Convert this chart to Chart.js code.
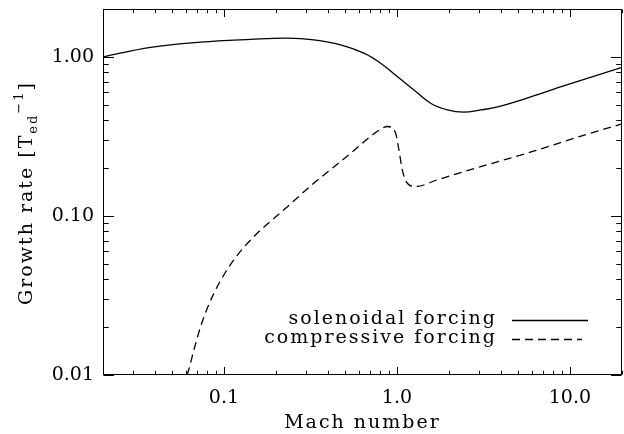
<!DOCTYPE html>
<html>
<head>
<meta charset="utf-8">
<script src="https://cdn.jsdelivr.net/npm/chart.js@4.4.0/dist/chart.umd.min.js"></script>
<style>
html, body { margin: 0; padding: 0; background: #fff; }
#wrap { width: 624px; height: 434px; }
</style>
</head>
<body>
<div id="wrap"><canvas id="growthChart" width="624" height="434"></canvas></div>
<script>
// values (log-log)
const machSol = [0.02, 0.0377, 0.0733, 0.143, 0.233, 0.331, 0.473, 0.644, 0.805, 1.005, 1.254, 1.566, 1.956, 2.44, 3.05, 3.82, 5.93, 9.19, 20];
const rateSol = [1.00, 1.147, 1.237, 1.288, 1.311, 1.279, 1.190, 1.055, 0.913, 0.752, 0.620, 0.511, 0.464, 0.449, 0.464, 0.485, 0.560, 0.657, 0.859];

const machComp = [0.0614, 0.0733, 0.0876, 0.114, 0.149, 0.233, 0.323, 0.517, 0.805, 0.880, 0.983, 1.027, 1.074, 1.148, 1.282, 1.72, 3.05, 6.30, 11.2, 20];
const rateComp = [0.010, 0.0201, 0.0327, 0.0529, 0.0741, 0.1144, 0.157, 0.238, 0.351, 0.365, 0.331, 0.260, 0.195, 0.1606, 0.153, 0.169, 0.204, 0.257, 0.314, 0.379];

const seriesNames = ['solenoidal forcing', 'compressive forcing'];
const xTicks = [0.1, 1, 10];
const yTicks = [0.01, 0.1, 1];
const xMin = 0.02, xMax = 20, yMin = 0.01, yMax = 2;

const FONT = 'DejaVu Serif';

function pts(xs, ys) {
    return xs.map((m, i) => ({x: m, y: ys[i]}));
}

function decadeValues(lo, hi) {
    let out = [];
    for (let e = Math.floor(Math.log10(lo)); e <= Math.ceil(Math.log10(hi)); e++) {
        for (let k = 1; k <= 9; k++) {
            let v = k * Math.pow(10, e);
            if (v >= lo * 0.999 && v <= hi * 1.001) out.push({v: v, major: k === 1});
        }
    }
    return out;
}

// box, inward ticks on all four sides, titles and legend
const idlFrame = {
    id: 'idlFrame',
    afterDraw(chart) {
        const ctx = chart.ctx;
        const a = chart.chartArea;
        const xs = chart.scales.x, ys = chart.scales.y;
        const L = Math.round(a.left) + 0.5, R = Math.round(a.right) - 0.5;
        const T = Math.round(a.top) + 0.5, B = Math.round(a.bottom) - 0.5;
        ctx.save();
        ctx.strokeStyle = '#000';
        ctx.lineWidth = 1;
        ctx.setLineDash([]);
        ctx.strokeRect(L, T, R - L, B - T);

        ctx.beginPath();
        for (let t of decadeValues(xMin, xMax)) {
            let px = Math.round(xs.getPixelForValue(t.v)) + 0.5;
            let len = t.major ? 7.5 : 3.7;
            ctx.moveTo(px, B); ctx.lineTo(px, B - len);
            ctx.moveTo(px, T); ctx.lineTo(px, T + len);
        }
        for (let t of decadeValues(yMin, yMax)) {
            let py = Math.round(ys.getPixelForValue(t.v)) + 0.5;
            let len = t.major ? 10.5 : 5.2;
            ctx.moveTo(L, py); ctx.lineTo(L + len, py);
            ctx.moveTo(R, py); ctx.lineTo(R - len, py);
        }
        ctx.stroke();

        ctx.fillStyle = '#000';
        ctx.letterSpacing = '2px';

        // x title
        ctx.font = '19px "' + FONT + '"';
        ctx.textAlign = 'center';
        ctx.textBaseline = 'alphabetic';
        ctx.fillText('Mach number', (a.left + a.right) / 2, 428);

        // y title with sub/superscript
        const parts = [
            {t: 'Growth rate [T', size: 19, dy: 0},
            {t: 'ed', size: 13, dy: 5},
            {t: '\u22121', size: 13, dy: -9},
            {t: ']', size: 19, dy: 0}
        ];
        let total = 0;
        for (let p of parts) {
            ctx.font = p.size + 'px "' + FONT + '"';
            p.w = ctx.measureText(p.t).width;
            total += p.w;
        }
        ctx.save();
        ctx.translate(32, 193);
        ctx.rotate(-Math.PI / 2);
        ctx.textAlign = 'left';
        let cx = -total / 2;
        for (let p of parts) {
            ctx.font = p.size + 'px "' + FONT + '"';
            ctx.fillText(p.t, cx, p.dy);
            cx += p.w;
        }
        ctx.restore();

        // legend, text left of samples
        ctx.font = '19px "' + FONT + '"';
        ctx.textAlign = 'right';
        const legY = [324, 343];
        const lineY = [320, 339];
        chart.data.datasets.forEach((ds, i) => {
            ctx.fillText(seriesNames[i], 497, legY[i]);
            ctx.beginPath();
            ctx.lineWidth = ds.borderWidth;
            ctx.setLineDash(ds.borderDash || []);
            ctx.moveTo(512, lineY[i] + 0.5);
            ctx.lineTo(i === 0 ? 588 : 582, lineY[i] + 0.5);
            ctx.stroke();
        });
        ctx.restore();
    }
};

new Chart(document.getElementById('growthChart').getContext('2d'), {
    type: 'line',
    data: {
        datasets: [{
            label: seriesNames[0],
            data: pts(machSol, rateSol),
            borderColor: '#000',
            borderWidth: 1.3,
            pointRadius: 0,
            tension: 0.4
        }, {
            label: seriesNames[1],
            data: pts(machComp, rateComp),
            borderColor: '#000',
            borderWidth: 1.3,
            borderDash: [8, 5],
            pointRadius: 0,
            cubicInterpolationMode: 'monotone'
        }]
    },
    options: {
        responsive: false,
        animation: false,
        devicePixelRatio: 1,
        layout: {padding: {top: 9, right: 2, left: 0, bottom: 0}},
        plugins: {legend: {display: false}, tooltip: {enabled: false}},
        scales: {
            x: {
                type: 'logarithmic',
                min: xMin,
                max: xMax,
                grid: {display: false, drawTicks: false},
                border: {display: false},
                afterBuildTicks: (s) => { s.ticks = xTicks.map(v => ({value: v})); },
                afterFit: (s) => { s.height = 59; s.paddingLeft = 0; s.paddingRight = 0; },
                ticks: {
                    color: '#000',
                    font: {family: FONT, size: 19},
                    padding: 12,
                    maxRotation: 0,
                    autoSkip: false,
                    callback: (v) => Number(v).toFixed(1)
                }
            },
            y: {
                type: 'logarithmic',
                min: yMin,
                max: yMax,
                grid: {display: false, drawTicks: false},
                border: {display: false},
                afterBuildTicks: (s) => { s.ticks = yTicks.map(v => ({value: v})); },
                afterFit: (s) => { s.width = 103; s.paddingTop = 0; s.paddingBottom = 0; },
                ticks: {
                    color: '#000',
                    font: {family: FONT, size: 19},
                    padding: 9,
                    autoSkip: false,
                    callback: (v) => Number(v).toFixed(2)
                }
            }
        }
    },
    plugins: [idlFrame]
});
</script>
</body>
</html>
